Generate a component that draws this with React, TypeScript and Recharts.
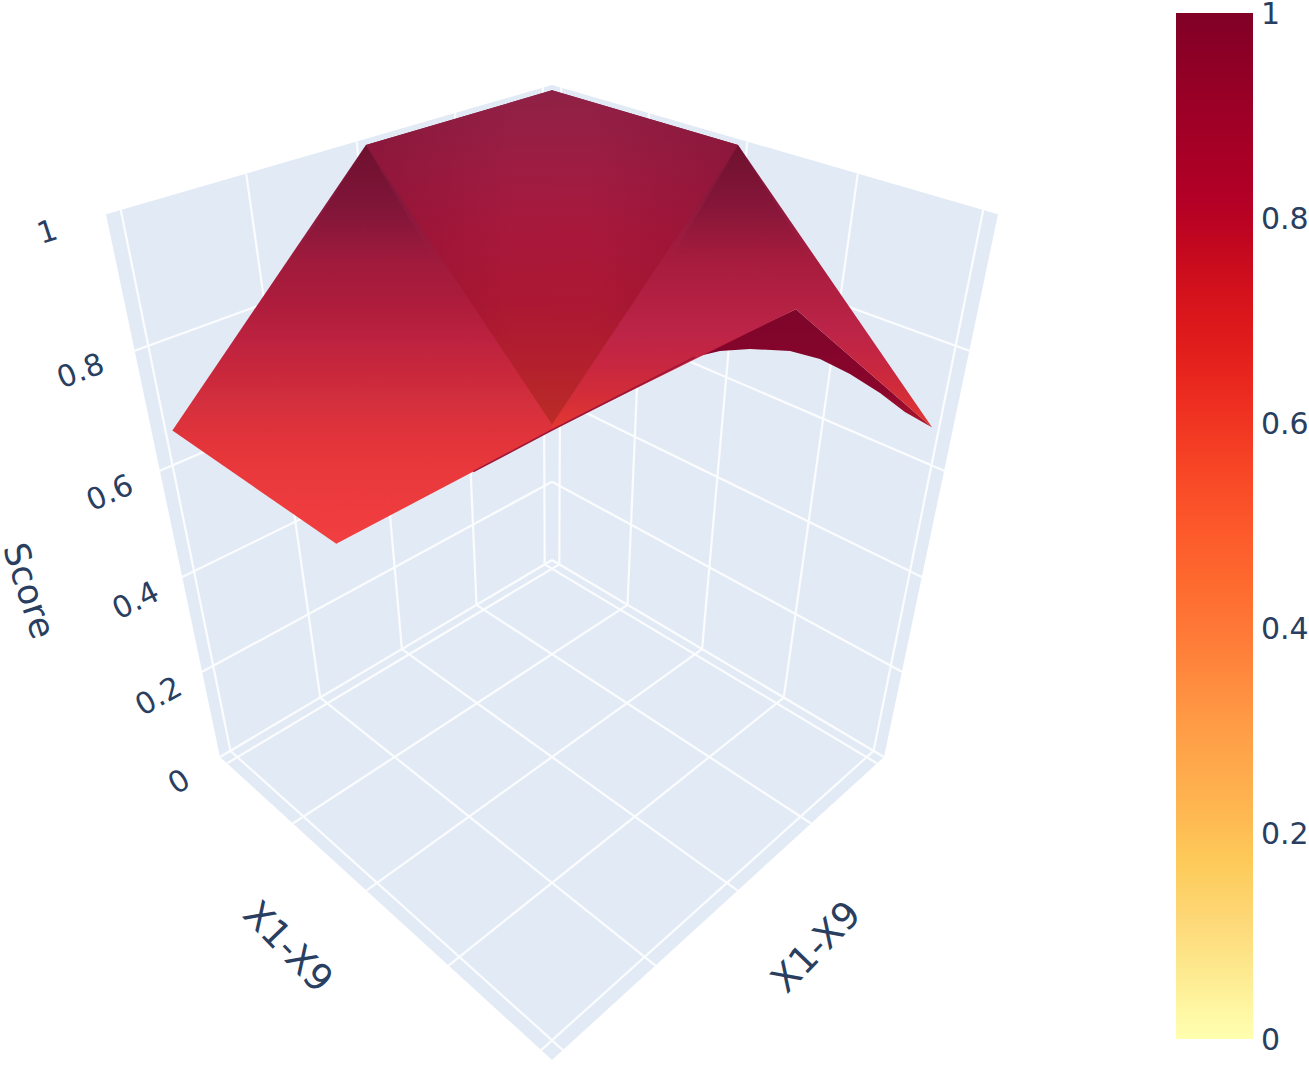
import { Bar, BarChart, Scatter, ScatterChart, XAxis, YAxis } from "recharts"

const WIDTH = 1309
const HEIGHT = 1065

// normalised positions of the X1-X9 gridlines inside the scene box
const axisTicks = [0.0265, 0.263, 0.5, 0.737, 0.974]
const scoreTicks = [0, 0.2, 0.4, 0.6, 0.8, 1]
const scoreLabels = ["0", "0.2", "0.4", "0.6", "0.8", "1"]

const [t0, , t2, , t4] = axisTicks

// surface vertices as [x, y, score]
const leftFacet = [[t0, t2, 1], [t0, t4, 0.67], [t2, t4, 0.665], [t4, t4, 1], [t0, t0, 1]]
const centerFacet = [[t0, t2, 1], [t0, t0, 1], [t2, t0, 1], [t2, t2, 0.68]]
const rightFacet = [[t2, t0, 1], [t0, t0, 1], [t4, t4, 1], [t4, t2, 0.995], [t4, t0, 0.675]]
const wedgeLeft = [[t0, t2, 1], [0.2, 0.5, 0.86], [t0, 0.68, 0.865]]
const wedgeRight = [[t2, t0, 1], [0.5, 0.2, 0.86], [0.68, t0, 0.865]]
const sideLeft = [[t0, t2, 1], [t0, t0, 1], [t2, t2, 0.68]]
const sideRight = [[t2, t0, 1], [t0, t0, 1], [t2, t2, 0.68]]
const rimEdge = [[0.832, t4, 0.8995], [t4, t4, 1], [t4, 0.7165, 1]]
const underArcY = [0.7165, 0.6648, 0.5985, 0.5023, 0.4219, 0.3318, 0.2306, 0.1365]
const underArcScore = [1, 0.9916, 0.9741, 0.9428, 0.9078, 0.8591, 0.7988, 0.738]

const colorbarOffsets = [0, 0.019, 0.067, 0.116, 0.174, 0.213, 0.311, 0.399, 0.444, 0.493, 0.557, 0.623, 0.681, 0.72, 0.769, 0.818, 0.915, 1]
const colorbarColors = ["#ffffb0", "#fffaa8", "#fde98e", "#fdd877", "#fdca58", "#feba52", "#ff9a45", "#ff7836", "#fe6a2e", "#fd5a2b", "#f74526", "#ed2d20", "#e01b1b", "#d6141c", "#c4081e", "#b30026", "#9a0026", "#800026"]

const facetStops: Record<string, [number, string, number?][]> = {
  left: [[0.121, "#7a1234"], [0.253, "#86143a"], [0.376, "#9e1638"], [0.473, "#ad1838"], [0.552, "#bc1e3c"], [0.622, "#c82438"], [0.692, "#d42c3a"], [0.771, "#e23036"], [0.842, "#e93538"], [1, "#f23b3d"]],
  center: [[0, "#8f2146"], [0.25, "#a01c42"], [0.44, "#a9183b"], [0.64, "#ac1833"], [0.79, "#b21e2e"], [0.94, "#b82828"], [1, "#bc2c25"]],
  right: [[0.165, "#7c1334"], [0.332, "#8c153a"], [0.474, "#a2173a"], [0.616, "#b21c3e"], [0.708, "#bb2044"], [0.816, "#c8233c"], [0.908, "#d42a34"], [1, "#e6342e"]],
  under: [[0, "#7c0026"], [0.7, "#880028"], [1, "#b01528"]],
  wedgeLeft: [[0, "#4a0018", 0.28], [1, "#4a0018", 0]],
  wedgeRight: [[0, "#4a0018", 0.28], [1, "#4a0018", 0]],
  sideLeft: [[0, "#5a0020", 0.22], [0.8, "#5a0020", 0]],
  sideRight: [[0.2, "#5a0020", 0], [1, "#5a0020", 0.22]],
}
const horizontalKinds = ["sideLeft", "sideRight"]

// perspective camera fitted to the box corners
function project(x: number, y: number, z: number) {
  const w = 1 - 0.17492 * (x + y) - 0.2109 * z
  return {
    u: 552 + (273.93 * (x - y)) / w,
    v: (560 + 64.58 * (x + y) - 493 * z) / w,
  }
}

type Vertex = { u: number; v: number; mark: number; i: number; n: number; kind: string }

const sceneData: Vertex[] = []
let markCount = 0
function addMark(kind: string, pts: number[][]) {
  const mark = markCount++
  pts.forEach((p, i) => {
    sceneData.push({ ...project(p[0], p[1], p[2]), mark, i, n: pts.length, kind })
  })
}

addMark("wall", [[0, 0, 0], [0, 1, 0], [0, 1, 1], [0, 0, 1]])
addMark("wall", [[0, 0, 0], [1, 0, 0], [1, 0, 1], [0, 0, 1]])
addMark("wall", [[0, 0, 0], [1, 0, 0], [1, 1, 0], [0, 1, 0]])
axisTicks.forEach((t) => {
  addMark("grid", [[t, 0, 0], [t, 1, 0]])
  addMark("grid", [[0, t, 0], [1, t, 0]])
  addMark("grid", [[0, t, 0], [0, t, 1]])
  addMark("grid", [[t, 0, 0], [t, 0, 1]])
})
scoreTicks.slice(0, -1).forEach((z) => {
  addMark("grid", [[0, 0, z], [0, 1, z]])
  addMark("grid", [[0, 0, z], [1, 0, z]])
})
addMark("under", [[t4, t2, 0.995], ...underArcY.map((y, i) => [t4, y, underArcScore[i]]), [t4, t0, 0.675]])
addMark("left", leftFacet)
addMark("right", rightFacet)
addMark("center", centerFacet)
addMark("sideLeft", sideLeft)
addMark("sideRight", sideRight)
addMark("wedgeLeft", wedgeLeft)
addMark("wedgeRight", wedgeRight)
addMark("rim", rimEdge)

const labelData = [
  ...scoreTicks.map((z, i) => ({ ...project(0, 1.1, z), text: scoreLabels[i], size: 30, angle: -18 - (1 - z) * 14 })),
  { ...project(0, 1.28, 0.5), text: "Score", size: 35, angle: 72 },
  { ...project(0.5, 1.18, 0), text: "X1-X9", size: 37, angle: 46 },
  { ...project(1.18, 0.5, 0), text: "X1-X9", size: 37, angle: -46 },
]

const buffers: Record<number, [number, number][]> = {}

// each vertex goes through the chart scales; the mark is drawn on its last vertex
function SceneShape(props: any) {
  const { cx, cy, payload } = props
  const { mark, i, n, kind } = payload as Vertex
  const pts = buffers[mark] ?? (buffers[mark] = [])
  pts[i] = [cx, cy]
  if (i !== n - 1) return <g />
  if (kind === "grid") {
    return <line x1={pts[0][0]} y1={pts[0][1]} x2={pts[1][0]} y2={pts[1][1]} stroke="#fbfcfe" strokeWidth={2.2} />
  }
  const points = pts.map((p) => p.join(",")).join(" ")
  if (kind === "rim") return <polyline points={points} fill="none" stroke="#a01638" strokeWidth={1.6} />
  if (kind === "wall") return <polygon points={points} fill="#e2ebf5" />
  const xs = pts.map((p) => p[0])
  const ys = pts.map((p) => p[1])
  const id = `facet-${kind}`
  const horizontal = horizontalKinds.includes(kind)
  return (
    <g>
      <defs>
        <linearGradient
          id={id}
          gradientUnits="userSpaceOnUse"
          x1={horizontal ? Math.min(...xs) : 0}
          x2={horizontal ? Math.max(...xs) : 0}
          y1={horizontal ? 0 : Math.min(...ys)}
          y2={horizontal ? 0 : Math.max(...ys)}
        >
          {facetStops[kind].map(([o, c, a]) => (
            <stop key={o} offset={o} stopColor={c} stopOpacity={a ?? 0.98} />
          ))}
        </linearGradient>
      </defs>
      <polygon points={points} fill={`url(#${id})`} />
    </g>
  )
}

function LabelShape(props: any) {
  const { cx, cy, payload } = props
  return (
    <text
      x={cx}
      y={cy}
      fontFamily="DejaVu Sans"
      fontSize={payload.size}
      fill="#2a3f5f"
      textAnchor="middle"
      dominantBaseline="central"
      transform={`rotate(${payload.angle} ${cx} ${cy})`}
    >
      {payload.text}
    </text>
  )
}

export default function App() {
  return (
    <div style={{ position: "absolute", left: 0, top: 0, width: WIDTH, height: HEIGHT }}>
      <div style={{ position: "absolute", left: 0, top: 0 }}>
        <ScatterChart width={WIDTH} height={HEIGHT} margin={{ top: 0, right: 0, bottom: 0, left: 0 }}>
          <XAxis type="number" dataKey="u" domain={[0, WIDTH]} hide />
          <YAxis type="number" dataKey="v" domain={[0, HEIGHT]} reversed hide />
          <Scatter data={sceneData} shape={SceneShape} isAnimationActive={false} />
          <Scatter data={labelData} shape={LabelShape} isAnimationActive={false} />
        </ScatterChart>
      </div>
      <div style={{ position: "absolute", left: 0, top: 0 }}>
        <BarChart
          width={WIDTH}
          height={HEIGHT}
          data={[{ name: "Score", top: 1 }]}
          margin={{ top: 13, right: 0, bottom: 26, left: 1176 }}
          barCategoryGap={0}
        >
          <defs>
            <linearGradient id="colorbar" x1="0" y1="1" x2="0" y2="0">
              {colorbarColors.map((c, i) => (
                <stop key={c} offset={colorbarOffsets[i]} stopColor={c} />
              ))}
            </linearGradient>
          </defs>
          <XAxis dataKey="name" hide />
          <YAxis
            orientation="right"
            type="number"
            domain={[0, 1]}
            ticks={scoreTicks}
            tickFormatter={(v) => String(v)}
            interval={0}
            width={56}
            axisLine={false}
            tickLine={false}
            tick={{ fontSize: 30, fill: "#2a3f5f", fontFamily: "DejaVu Sans", textAnchor: "start" }}
          />
          <Bar dataKey="top" fill="url(#colorbar)" isAnimationActive={false} />
        </BarChart>
      </div>
    </div>
  )
}
